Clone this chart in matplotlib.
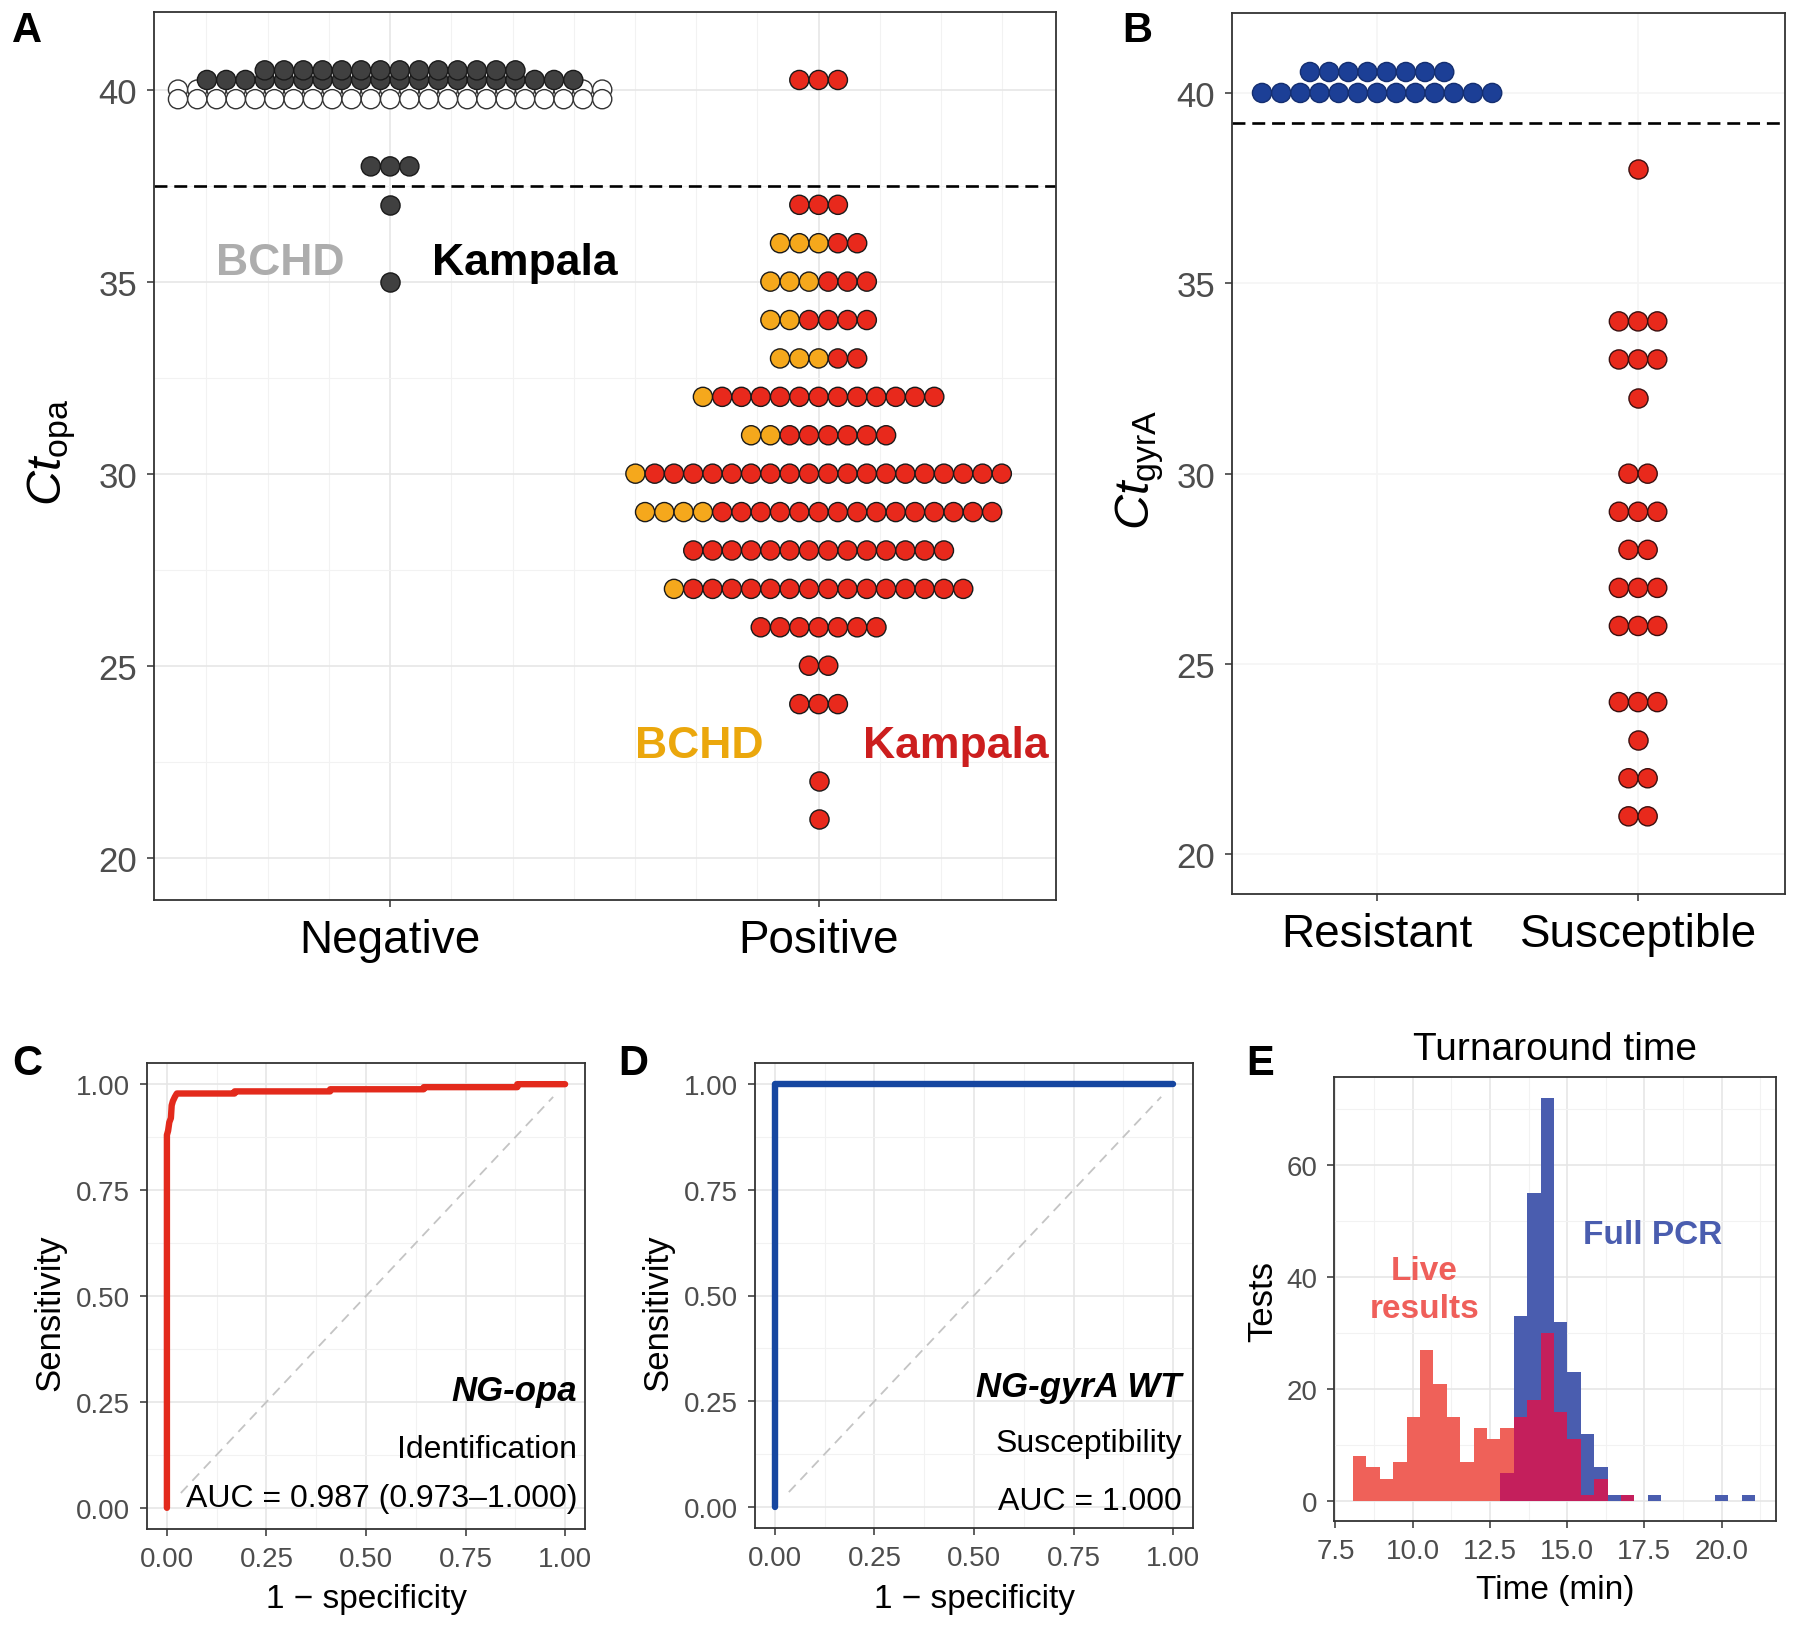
import numpy as np
import matplotlib
matplotlib.use("Agg")
import matplotlib.pyplot as plt

plt.rcParams['font.family'] = ['Liberation Sans', 'DejaVu Sans']
plt.rcParams['mathtext.fontset'] = 'custom'
plt.rcParams['mathtext.rm'] = 'Liberation Sans'
plt.rcParams['mathtext.it'] = 'Liberation Sans:italic'

W, H = 1800, 1631

# panel A: Ct(opa) dot rows -> (ct, number of BCHD dots, number of Kampala dots)
a_categories = ["Negative", "Positive"]
neg_bchd_ct = [40.0, 39.75]
neg_bchd_n = [23, 23]
neg_kamp_ct = [40.25, 40.5, 38, 37, 35]
neg_kamp_n = [20, 14, 3, 1, 1]
pos_ct = [40.25, 37, 36, 35, 34, 33, 32, 31, 30, 29, 28, 27, 26, 25, 24, 22, 21]
pos_bchd_n = [0, 0, 3, 3, 2, 3, 1, 2, 1, 4, 0, 1, 0, 0, 0, 0, 0]
pos_kamp_n = [3, 3, 2, 3, 4, 2, 12, 6, 19, 15, 14, 15, 7, 2, 3, 1, 1]
opa_cutoff = 37.5

# panel B: Ct(gyrA)
b_categories = ["Resistant", "Susceptible"]
res_ct = [40.0, 40.55]
res_n = [13, 8]
sus_ct = [38, 34, 33, 32, 30, 29, 28, 27, 26, 24, 23, 22, 21]
sus_n = [1, 3, 3, 1, 2, 3, 2, 3, 3, 3, 1, 2, 2]
gyra_cutoff = 39.2

# panels C/D: ROC curves
opa_fpr = [0, 0, 0.003, 0.006, 0.01, 0.012, 0.015, 0.02, 0.025, 0.17, 0.17,
           0.41, 0.41, 0.645, 0.645, 0.88, 0.88, 1.0]
opa_tpr = [0, 0.88, 0.89, 0.91, 0.92, 0.95, 0.96, 0.97, 0.978, 0.978, 0.983,
           0.983, 0.988, 0.988, 0.993, 0.993, 1.0, 1.0]
gyra_fpr = [0, 0, 1]
gyra_tpr = [0, 1, 1]

# panel E: turnaround time histogram, 30 bins
bin_lo, bin_hi = 8.07, 21.08
live_counts = [8, 6, 4, 7, 15, 27, 21, 15, 7, 13, 11, 13, 15, 18, 30,
               16, 11, 1, 4, 0, 1, 0, 0, 0, 0, 0, 0, 0, 0, 0]
full_counts = [0, 0, 0, 0, 0, 0, 0, 0, 0, 0, 0, 5, 33, 55, 72,
               32, 23, 12, 6, 1, 1, 0, 1, 0, 0, 0, 0, 1, 0, 1]

RED = "#E8291C"
YEL = "#F5A81C"
DARK = "#404040"
BLUE = "#1C3F96"


def add_ax(l, t, r, b):
    return fig.add_axes([l / W, 1 - b / H, (r - l) / W, (b - t) / H])


def style(ax, major="#E6E6E6", minor="#F2F2F2"):
    for s in ax.spines.values():
        s.set_color("#333333")
        s.set_linewidth(1.3)
    ax.tick_params(which='major', colors="#333333", length=5, width=1.1,
                   labelcolor="#4D4D4D")
    ax.tick_params(which='minor', length=0)
    ax.grid(which='major', color=major, lw=1.2)
    ax.grid(which='minor', color=minor, lw=0.8)
    ax.set_axisbelow(True)


def dot_rows(ax, center, cts, n1, n2, c1, c2, step, ec="#1a1a1a"):
    for y, a, b in zip(cts, n1, n2):
        n = a + b
        xs = center + (np.arange(n) - (n - 1) / 2) * step
        cols = [c1] * a + [c2] * b
        ax.scatter(xs, [y] * n, s=190, c=cols, edgecolors=ec, linewidths=1.0,
                   zorder=3)


def ftext(px, py, s, **kw):
    fig.text(px / W, 1 - py / H, s, **kw)


fig = plt.figure(figsize=(18, 16.31), dpi=100)

# ---------------- A
ax = add_ax(154, 13, 1056, 901)
style(ax)
dot_rows(ax, 1, neg_bchd_ct, neg_bchd_n, [0] * len(neg_bchd_n), "white", "white",
         0.045, ec="#333333")
dot_rows(ax, 1, neg_kamp_ct, [0] * len(neg_kamp_n), neg_kamp_n, DARK, DARK, 0.045)
dot_rows(ax, 2, pos_ct, pos_bchd_n, pos_kamp_n, YEL, RED, 0.045)
ax.axhline(opa_cutoff, color="black", lw=1.9, ls=(0, (4.9, 2.6)), zorder=2)
ax.set_xlim(0.449, 2.554)
ax.set_ylim(18.9, 42.02)
ax.set_xticks([1, 2])
ax.set_xticklabels(a_categories, fontsize=33, color="black")
ax.set_xticks(1 + np.arange(-3, 11) / 7, minor=True)
ax.set_yticks([20, 25, 30, 35, 40])
ax.set_yticks([22.5, 27.5, 32.5, 37.5], minor=True)
ax.tick_params(axis='y', labelsize=25, pad=7)
ax.tick_params(axis='x', pad=8)
ax.text(0.743, 35.2, "BCHD", color="#ADADAD", fontsize=32, fontweight='bold',
        ha='center', va='baseline')
ax.text(1.315, 35.2, "Kampala", color="black", fontsize=32, fontweight='bold',
        ha='center', va='baseline')
ax.text(1.721, 22.63, "BCHD", color="#EBA70C", fontsize=32, fontweight='bold',
        ha='center', va='baseline')
ax.text(2.321, 22.63, "Kampala", color="#CC1E1E", fontsize=32, fontweight='bold',
        ha='center', va='baseline')
ftext(52, 452, r"$Ct_{\mathrm{opa}}$", fontsize=35, rotation=90,
      ha='center', va='center')

# ---------------- B
ax = add_ax(1232, 14, 1785, 895)
style(ax, major="#F5F5F5", minor="#FAFAFA")
dot_rows(ax, 1, res_ct, res_n, [0] * len(res_n), BLUE, BLUE, 0.0735, ec="#142E70")
dot_rows(ax, 2, sus_ct, [0] * len(sus_n), sus_n, RED, RED, 0.0735, ec="#3a1010")
ax.axhline(gyra_cutoff, color="black", lw=1.9, ls=(0, (4.9, 2.6)), zorder=2)
ax.set_xlim(0.444, 2.563)
ax.set_ylim(18.96, 42.1)
ax.set_xticks([1, 2])
ax.set_xticklabels(b_categories, fontsize=33, color="black")
ax.set_yticks([20, 25, 30, 35, 40])
ax.tick_params(axis='y', labelsize=25, pad=7)
ax.tick_params(axis='x', pad=8)
ftext(1140, 470, r"$Ct_{\mathrm{gyrA}}$", fontsize=35, rotation=90,
      ha='center', va='center')


# ---------------- C and D
def roc_panel(l, t, r, b, fpr, tpr, color, lines, text_x):
    ax = add_ax(l, t, r, b)
    style(ax)
    ax.plot([0.035, 0.97], [0.035, 0.97], color="#C4C4C4", lw=1.3,
            ls=(0, (5.5, 3.8)), zorder=2)
    ax.plot(fpr, tpr, color=color, lw=4.6, solid_capstyle='round',
            solid_joinstyle='round', zorder=3)
    ax.set_xlim(-0.05, 1.05)
    ax.set_ylim(-0.05, 1.05)
    ticks = [0, 0.25, 0.5, 0.75, 1.0]
    ax.set_xticks(ticks)
    ax.set_yticks(ticks)
    ax.set_xticklabels(["0.00", "0.25", "0.50", "0.75", "1.00"])
    ax.set_yticklabels(["0.00", "0.25", "0.50", "0.75", "1.00"])
    ax.set_xticks([0.125, 0.375, 0.625, 0.875], minor=True)
    ax.set_yticks([0.125, 0.375, 0.625, 0.875], minor=True)
    ax.tick_params(labelsize=20, pad=7)
    for (s, y, kw) in lines:
        ax.text(text_x, y, s, ha='right', va='center', **kw)
    cx = (l + r) / 2
    ftext(cx, 1600, "1 \u2212 specificity", fontsize=24, ha='center', va='center')
    ftext(l - 97, (t + b) / 2 + 16, "Sensitivity", fontsize=25, rotation=90,
          ha='center', va='center')
    return ax


bold = dict(fontsize=25, fontweight='bold', style='italic')
norm = dict(fontsize=23)
roc_panel(147, 1064, 585, 1530, opa_fpr, opa_tpr, "#E32A1C",
          [("NG-opa", 0.276, bold), ("Identification", 0.138, norm),
           ("AUC = 0.987 (0.973\u20131.000)", 0.022, norm)], 1.03)
roc_panel(755, 1064, 1193, 1529, gyra_fpr, gyra_tpr, "#1646A0",
          [("NG-gyrA WT", 0.285, bold), ("Susceptibility", 0.150, norm),
           ("AUC = 1.000", 0.013, norm)], 1.022)

# ---------------- E
ax = add_ax(1334, 1078, 1776, 1522)
style(ax)
edges = np.linspace(bin_lo, bin_hi, len(live_counts) + 1)
binw = edges[1] - edges[0]
live = np.array(live_counts)
full = np.array(full_counts)
ax.bar(edges[:-1], full, width=binw, align='edge', color="#4A5DAF", lw=0, zorder=2)
ax.bar(edges[:-1], live, width=binw, align='edge', color="#EF6159", lw=0, zorder=3)
ax.bar(edges[:-1], np.minimum(live, full), width=binw, align='edge',
       color="#C41F5C", lw=0, zorder=4)
ax.set_xlim(7.455, 21.76)
ax.set_ylim(-3.57, 75.8)
ax.set_xticks([7.5, 10, 12.5, 15, 17.5, 20])
ax.set_xticklabels(["7.5", "10.0", "12.5", "15.0", "17.5", "20.0"])
ax.set_xticks([8.75, 11.25, 13.75, 16.25, 18.75, 21.25], minor=True)
ax.set_yticks([0, 20, 40, 60])
ax.set_yticks([10, 30, 50, 70], minor=True)
ax.tick_params(labelsize=20, pad=7)
ax.text(17.77, 47.6, "Full PCR", color="#4A5DAF", fontsize=24, fontweight='bold',
        ha='center', va='center')
ax.text(10.39, 37.8, "Live\nresults", color="#EF5F5A", fontsize=24,
        fontweight='bold', ha='center', va='center', linespacing=1.3)
ftext(1555, 1050, "Turnaround time", fontsize=28, ha='center', va='center')
ftext(1555, 1591, "Time (min)", fontsize=24, ha='center', va='center')
ftext(1263, 1301, "Tests", fontsize=25, rotation=90, ha='center', va='center')

# panel letters
for letter, px, py in [("A", 27, 31), ("B", 1137, 31), ("C", 27, 1064),
                       ("D", 633, 1064), ("E", 1260, 1064)]:
    ftext(px, py, letter, fontsize=30, fontweight='bold', ha='center', va='center')

fig.savefig("out.png", dpi=100)
